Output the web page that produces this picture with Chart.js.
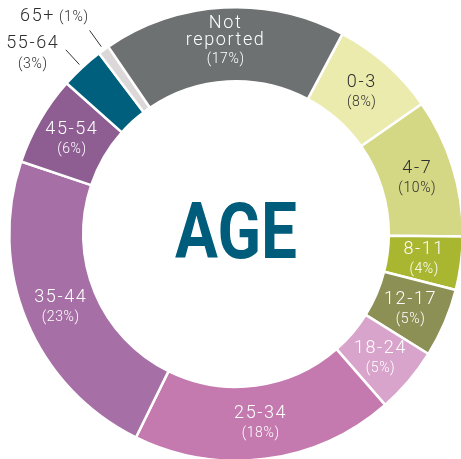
<!DOCTYPE html>
<html>
<head>
<meta charset="utf-8">
<script src="https://cdn.jsdelivr.net/npm/chart.js@4"></script>
<style>
  html, body { margin: 0; padding: 0; background: #fff; overflow: hidden; }
  #wrap { position: relative; width: 464px; height: 462px; }
</style>
</head>
<body>
<div id="wrap"><canvas id="ageChart"></canvas></div>
<script>
// data (share of the ring, label text)
const ageGroups = ["0-3", "4-7", "8-11", "12-17", "18-24", "25-34", "35-44", "45-54", "55-64", "65+", "Not reported"];
const shares = [7.5, 9.9, 3.8, 4.9, 4.7, 18.7, 22.9, 6.4, 3.1, 0.8, 17.3];
const pctLabels = ["8%", "10%", "4%", "5%", "5%", "18%", "23%", "6%", "3%", "1%", "17%"];
const centerTitle = "AGE";

const sliceColors = [
  "#ebebae", "#d4d784", "#a9b62f", "#8c9055", "#d9a4cc", "#c47aae",
  "#a670a6", "#8e5e93", "#005f7c", "#dcd8d9", "#6e7171",
];
const textColors = [
  "#2e2e2e", "#2e2e2e", "#fff", "#fff", "#fff", "#fff",
  "#fff", "#fff", "#2e2e2e", "#2e2e2e", "#fff",
];
const outsideLabels = ["55-64", "65+"];

const NAME_FONT = "300 18px Roboto, sans-serif";
const PCT_FONT = "300 14px Roboto, sans-serif";

// étiquettes dans les segments + légendes extérieures
const sliceLabels = {
  id: "sliceLabels",
  afterDatasetsDraw(chart) {
    const ctx = chart.ctx;
    const arcs = chart.getDatasetMeta(0).data;
    ctx.save();
    ctx.textAlign = "center";
    ctx.textBaseline = "middle";
    arcs.forEach((arc, i) => {
      const p = arc.getProps(["x", "y", "startAngle", "endAngle", "innerRadius", "outerRadius"], true);
      const mid = (p.startAngle + p.endAngle) / 2;
      const name = ageGroups[i];
      const pct = "(" + pctLabels[i] + ")";
      ctx.fillStyle = textColors[i];

      if (outsideLabels.includes(name)) {
        const r0 = p.outerRadius + 4;
        const r1 = p.outerRadius + 24;
        const x0 = p.x + Math.cos(mid) * r0, y0 = p.y + Math.sin(mid) * r0;
        const x1 = p.x + Math.cos(mid) * r1, y1 = p.y + Math.sin(mid) * r1;
        ctx.strokeStyle = "#333";
        ctx.lineWidth = 1;
        ctx.beginPath();
        ctx.moveTo(x0, y0);
        ctx.lineTo(x1, y1);
        ctx.stroke();
        if (name === "65+") {
          ctx.textAlign = "right";
          ctx.letterSpacing = "0.6px";
          ctx.font = PCT_FONT;
          ctx.fillText(pct, x1 - 1, y1 - 13);
          const w = ctx.measureText(pct).width;
          ctx.letterSpacing = "1.6px";
          ctx.font = NAME_FONT;
          ctx.fillText(name, x1 - 1 - w - 4, y1 - 14);
        } else {
          ctx.textAlign = "center";
          ctx.letterSpacing = "1.6px";
          ctx.font = NAME_FONT;
          ctx.fillText(name, x1 - 33, y1 - 6);
          ctx.letterSpacing = "0.6px";
          ctx.font = PCT_FONT;
          ctx.fillText(pct, x1 - 33, y1 + 15);
        }
        ctx.textAlign = "center";
        return;
      }

      const rm = (p.innerRadius + p.outerRadius) / 2;
      const cx = p.x + Math.cos(mid) * rm;
      const cy = p.y + Math.sin(mid) * rm;
      ctx.letterSpacing = "1.6px";
      ctx.font = NAME_FONT;
      if (name === "Not reported") {
        ctx.fillText("Not", cx, cy - 21);
        ctx.fillText("reported", cx, cy - 4);
        ctx.letterSpacing = "0.6px";
        ctx.font = PCT_FONT;
        ctx.fillText(pct, cx, cy + 15);
      } else {
        ctx.fillText(name, cx, cy - 9);
        ctx.letterSpacing = "0.6px";
        ctx.font = PCT_FONT;
        ctx.fillText(pct, cx, cy + 11);
      }
    });
    ctx.restore();
  },
  afterDraw(chart) {
    const ctx = chart.ctx;
    const arc = chart.getDatasetMeta(0).data[0];
    ctx.save();
    ctx.translate(arc.x, arc.y + 24);
    ctx.scale(0.83, 1);
    ctx.fillStyle = "#005c7b";
    ctx.font = "bold 77px Roboto, sans-serif";
    ctx.textAlign = "center";
    ctx.textBaseline = "alphabetic";
    ctx.fillText(centerTitle, 0, 0);
    ctx.restore();
  },
};

new Chart(document.getElementById("ageChart"), {
  type: "doughnut",
  data: {
    labels: ageGroups,
    datasets: [
      {
        data: shares,
        backgroundColor: sliceColors,
        borderColor: "#fff",
        borderWidth: 2.5,
      },
    ],
  },
  options: {
    responsive: true,
    maintainAspectRatio: false,
    animation: false,
    rotation: 28,
    cutout: "67.4%",
    layout: { padding: { left: 8, top: 6, right: 0, bottom: 0 } },
    plugins: {
      legend: { display: false },
      tooltip: { enabled: false },
    },
  },
  plugins: [sliceLabels],
});
</script>
</body>
</html>
